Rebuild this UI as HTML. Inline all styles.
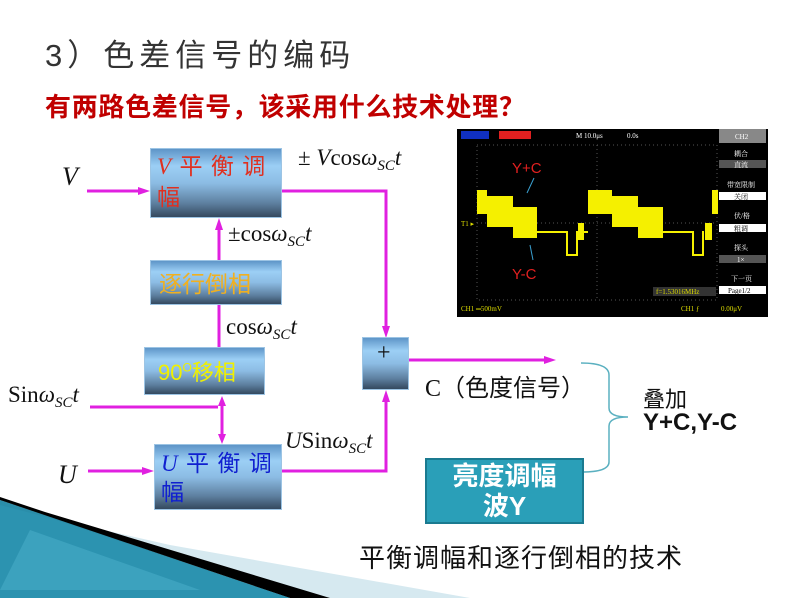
<!DOCTYPE html>
<html><head><meta charset="utf-8"><style>
body{margin:0;width:800px;height:600px;background:#fff;position:relative;overflow:hidden;font-family:"Liberation Serif","Noto Serif CJK SC",serif}
.a{position:absolute;white-space:nowrap}
.box{position:absolute;background:linear-gradient(#5e95c8 0%,#9ccff5 25%,#8cbce4 50%,#5d7f9f 80%,#34495f 100%);border:1px solid #9cc4e4;box-sizing:border-box}
.cj{font-family:"Liberation Sans","Noto Sans CJK SC",sans-serif}
.m{font-family:"Liberation Serif",serif;font-size:23px;color:#111}
.m i{font-style:italic}
sub{font-size:15px;font-style:italic;vertical-align:-5px}
</style></head><body>
<svg class="a" style="left:0;top:0" width="800" height="600">
<polygon points="0,500 60,520 290,598 0,598" fill="#2a8eaa"/>
<polygon points="60,520 170,545 470,598 330,598" fill="#d6e9f0"/>
<polygon points="45,512 330,598 290,598 0,500 0,497" fill="#000"/>
<polygon points="0,505 50,518 290,598 0,598" fill="#2c93b0"/>
<polygon points="30,530 200,590 0,590" fill="#48abc8" opacity=".6"/>
<g stroke="#e020e0" stroke-width="3" fill="none">
<line x1="87" y1="191" x2="140" y2="191"/>
<polyline points="282,191 386,191 386,330"/>
<line x1="219" y1="305" x2="219" y2="225"/>
<line x1="219" y1="347" x2="219" y2="305"/>
<line x1="90" y1="407" x2="218" y2="407"/>
<line x1="222" y1="402" x2="222" y2="437"/>
<line x1="88" y1="471" x2="146" y2="471"/>
<polyline points="282,471 386,471 386,398"/>
<line x1="409" y1="360" x2="548" y2="360"/>
</g>
<g fill="#e020e0">
<polygon points="150,191 138,187 138,195"/>
<polygon points="386,338 382,326 390,326"/>
<polygon points="219,218 215,230 223,230"/>
<polygon points="222,396 218,406 226,406"/>
<polygon points="222,444 218,434 226,434"/>
<polygon points="154,471 142,467 142,475"/>
<polygon points="386,390 382,402 390,402"/>
<polygon points="556,360 544,356 544,364"/>
</g>
<path d="M581,363 Q609,363 609,375 L609,408 Q609,417 628,417 Q609,417 609,426 L609,462 Q609,472 582,472" stroke="#5ab0c0" stroke-width="1.5" fill="none"/>
<rect x="457" y="129" width="311" height="188" fill="#000"/>
<rect x="461" y="131" width="28" height="8" fill="#1030c0"/>
<rect x="499" y="131" width="32" height="8" fill="#e02020"/>
<rect x="477" y="145" width="240" height="155" fill="none" stroke="#555" stroke-dasharray="1,3"/>
<line x1="477" y1="223" x2="717" y2="223" stroke="#555" stroke-dasharray="1,3"/>
<line x1="597" y1="145" x2="597" y2="300" stroke="#555" stroke-dasharray="1,3"/>
<g fill="#f5f000">
<rect x="477" y="190" width="10" height="24"/><rect x="487" y="196" width="26" height="31"/><rect x="513" y="207" width="24" height="31"/>
<rect x="537" y="231" width="29" height="2"/><rect x="566" y="231" width="2" height="25"/><rect x="566" y="254" width="12" height="2"/><rect x="576" y="231" width="2" height="25"/><rect x="578" y="223" width="6" height="17"/><rect x="584" y="231" width="4" height="2"/>
<rect x="588" y="190" width="24" height="24"/><rect x="612" y="196" width="26" height="31"/><rect x="638" y="207" width="25" height="31"/>
<rect x="663" y="231" width="29" height="2"/><rect x="692" y="231" width="2" height="25"/><rect x="692" y="254" width="12" height="2"/><rect x="702" y="231" width="2" height="25"/><rect x="705" y="223" width="7" height="17"/><rect x="712" y="190" width="6" height="24"/>
</g>
<line x1="534" y1="178" x2="527" y2="193" stroke="#3aa0d0"/><line x1="530" y1="245" x2="533" y2="260" stroke="#3aa0d0"/>
<rect x="719" y="129" width="47" height="14" fill="#888"/>
<rect x="719" y="160" width="47" height="8" fill="#555"/>
<rect x="719" y="192" width="47" height="8" fill="#fff"/>
<rect x="719" y="224" width="47" height="8" fill="#fff"/>
<rect x="719" y="255" width="47" height="8" fill="#555"/>
<rect x="719" y="286" width="47" height="8" fill="#fff"/>
<rect x="653" y="287" width="63" height="9" fill="#333"/>
<g font-family="Liberation Serif,Noto Serif CJK SC,serif" font-size="7" fill="#fff">
<text x="576" y="138">M 10.0μs</text><text x="627" y="138">0.0s</text>
<text x="735" y="139">CH2</text><text x="734" y="156">耦合</text><text x="734" y="167">直流</text>
<text x="727" y="187">带宽限制</text><text x="734" y="199" fill="#000">关闭</text><text x="734" y="218">伏/格</text><text x="734" y="231" fill="#000">粗调</text>
<text x="734" y="250">探头</text><text x="737" y="262">1×</text><text x="731" y="281">下一页</text><text x="728" y="293" fill="#000">Page1/2</text>
<text x="656" y="294" fill="#dd0">f=1.53016MHz</text>
<text x="461" y="311" fill="#dd0">CH1 ═500mV</text><text x="681" y="311" fill="#dd0">CH1 ƒ</text><text x="721" y="311" fill="#dd0">0.00μV</text>
<text x="461" y="226" fill="#dd0">T1 ▸</text>
</g>
<g font-family="Liberation Sans,sans-serif" font-size="15" fill="#e02020"><text x="512" y="173">Y+C</text><text x="512" y="279">Y-C</text></g>
</svg>
<div class="a cj" style="left:45px;top:30px;font-size:31px;color:#333;letter-spacing:5px">3）色差信号的编码</div>
<div class="a cj" style="left:45px;top:87px;font-size:26px;font-weight:bold;color:#c00000;letter-spacing:0.7px">有两路色差信号，该采用什么技术处理？</div>
<div class="box" style="left:150px;top:148px;width:132px;height:70px"></div>
<div class="a cj" style="left:157px;top:151px;font-size:23px;color:#e03020;letter-spacing:1px;line-height:30px"><i style="font-family:'Liberation Serif'">V</i> 平 衡 调<br>幅</div>
<div class="box" style="left:150px;top:260px;width:132px;height:45px"></div>
<div class="a cj" style="left:159px;top:265px;font-size:23px;color:#f0b020">逐行倒相</div>
<div class="box" style="left:144px;top:347px;width:121px;height:48px"></div>
<div class="a cj" style="left:158px;top:355px;font-size:22px;color:#f0f000">90<sup style="font-size:12px">O</sup>移相</div>
<div class="box" style="left:154px;top:444px;width:128px;height:66px"></div>
<div class="a cj" style="left:161px;top:449px;font-size:23px;color:#1020d0;letter-spacing:1px;line-height:29px"><i style="font-family:'Liberation Serif'">U</i> 平 衡 调<br>幅</div>
<div class="box" style="left:362px;top:337px;width:47px;height:53px"></div>
<div class="a" style="left:377px;top:340px;font-size:24px;color:#111">+</div>
<div class="a m" style="left:62px;top:162px;font-size:26px"><i>V</i></div>
<div class="a m" style="left:58px;top:460px;font-size:26px"><i>U</i></div>
<div class="a m" style="left:298px;top:145px">± <i>V</i>cos<i>ω</i><sub>SC</sub><i>t</i></div>
<div class="a m" style="left:228px;top:221px">±cos<i>ω</i><sub>SC</sub><i>t</i></div>
<div class="a m" style="left:226px;top:314px">cos<i>ω</i><sub>SC</sub><i>t</i></div>
<div class="a m" style="left:8px;top:382px">Sin<i>ω</i><sub>SC</sub><i>t</i></div>
<div class="a m" style="left:285px;top:428px"><i>U</i>Sin<i>ω</i><sub>SC</sub><i>t</i></div>
<div class="a m" style="left:425px;top:368px;font-size:24px">C<span class="cj">（色度信号）</span></div>
<div class="a cj" style="left:643px;top:382px;font-size:22px;color:#111">叠加</div>
<div class="a" style="left:643px;top:409px;font-size:24px;font-weight:bold;font-family:'Liberation Sans',sans-serif;color:#111">Y+C,Y-C</div>
<div class="a cj" style="left:425px;top:458px;width:159px;height:66px;box-sizing:border-box;background:#2a9fb8;border:2px solid #1a7a90;color:#fff;font-size:26px;font-weight:bold;text-align:center;line-height:30px;padding-top:1px">亮度调幅<br>波Y</div>
<div class="a cj" style="left:359px;top:538px;font-size:26px;color:#111;letter-spacing:1px">平衡调幅和逐行倒相的技术</div>
</body></html>
